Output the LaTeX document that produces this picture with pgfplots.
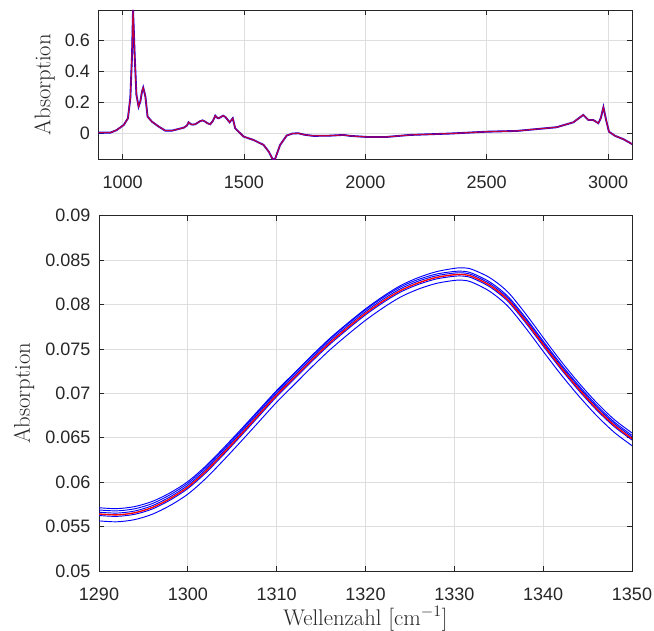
\documentclass[border=0pt]{standalone}
\usepackage{fontspec}
\usepackage{pgfplots}
\usepackage{pgfplotstable}
\pgfplotsset{compat=1.18}
\newfontfamily\arialfont{Liberation Sans}
\definecolor{axcol}{rgb}{0.15,0.15,0.15}
\definecolor{gridcol}{rgb}{0.87,0.87,0.87}

% full IR spectrum (wavenumber, absorbance)
\pgfplotstableread{
w A
900 0.004
950 0.004
975 0.020
1005 0.054
1022 0.097
1032 0.230
1039 0.510
1043 0.800
1046 0.680
1050 0.500
1057 0.250
1066 0.173
1073 0.205
1080 0.270
1085 0.296
1090 0.265
1094 0.238
1103 0.108
1121 0.075
1149 0.043
1176 0.017
1204 0.017
1252 0.036
1265 0.050
1272 0.071
1282 0.058
1290 0.056
1300 0.059
1310 0.069
1320 0.079
1330 0.0834
1340 0.0755
1350 0.0649
1361 0.058
1372 0.080
1382 0.114
1390 0.100
1396 0.097
1414 0.114
1424 0.105
1430 0.093
1441 0.071
1454 0.097
1464 0.032
1478 0.010
1499 -0.022
1540 -0.044
1581 -0.076
1602 -0.119
1618 -0.168
1628 -0.168
1649 -0.076
1676 -0.015
1700 -0.002
1724 0.000
1750 -0.010
1786 -0.017
1850 -0.016
1909 -0.011
1937 -0.017
2005 -0.024
2088 -0.024
2184 -0.011
2349 -0.002
2500 0.010
2624 0.015
2788 0.039
2857 0.071
2898 0.119
2919 0.086
2939 0.086
2960 0.065
2970 0.097
2981 0.169
2992 0.086
3004 0.010
3029 -0.017
3064 -0.039
3100 -0.071
}\spectrum

% detail 1290-1350: mean spectrum (red) and five single measurements (blue)
\pgfplotstableread{
w red b1 b2 b3 b4 b5
1290 0.05642 0.05712 0.05687 0.05662 0.05625 0.05564
1292 0.05632 0.05702 0.05677 0.05652 0.05615 0.05554
1294 0.05655 0.05725 0.05700 0.05675 0.05638 0.05578
1296 0.05715 0.05783 0.05759 0.05735 0.05698 0.05639
1298 0.05815 0.05880 0.05858 0.05835 0.05798 0.05737
1300 0.05945 0.06007 0.05987 0.05965 0.05928 0.05865
1302 0.06120 0.06180 0.06162 0.06140 0.06103 0.06040
1304 0.06325 0.06383 0.06366 0.06345 0.06308 0.06245
1306 0.06540 0.06596 0.06580 0.06560 0.06523 0.06460
1308 0.06760 0.06814 0.06800 0.06780 0.06743 0.06680
1310 0.06980 0.07032 0.07020 0.07000 0.06963 0.06900
1312 0.07180 0.07231 0.07220 0.07200 0.07163 0.07100
1314 0.07380 0.07430 0.07420 0.07400 0.07363 0.07300
1316 0.07570 0.07620 0.07610 0.07590 0.07553 0.07490
1318 0.07740 0.07790 0.07780 0.07760 0.07723 0.07661
1320 0.07900 0.07951 0.07940 0.07920 0.07883 0.07822
1322 0.08040 0.08093 0.08080 0.08060 0.08023 0.07964
1324 0.08160 0.08216 0.08200 0.08180 0.08143 0.08087
1326 0.08245 0.08305 0.08284 0.08265 0.08228 0.08175
1328 0.08305 0.08370 0.08343 0.08324 0.08288 0.08238
1330 0.08335 0.08407 0.08372 0.08354 0.08318 0.08271
1331 0.08337 0.08413 0.08374 0.08356 0.08320 0.08273
1332 0.08315 0.08395 0.08352 0.08334 0.08298 0.08250
1334 0.08215 0.08301 0.08253 0.08234 0.08198 0.08147
1336 0.08055 0.08143 0.08094 0.08075 0.08038 0.07983
1338 0.07815 0.07899 0.07854 0.07835 0.07798 0.07740
1340 0.07550 0.07628 0.07589 0.07570 0.07533 0.07473
1342 0.07290 0.07363 0.07329 0.07310 0.07273 0.07212
1344 0.07050 0.07119 0.07089 0.07070 0.07033 0.06971
1346 0.06830 0.06897 0.06869 0.06850 0.06814 0.06751
1348 0.06640 0.06705 0.06678 0.06660 0.06625 0.06561
1350 0.06490 0.06554 0.06528 0.06509 0.06475 0.06411
}\detail

\pgfplotsset{
  matlabstyle/.style={
    scale only axis,
    axis line style={axcol, line width=0.7pt},
    tick style={axcol, line width=0.6pt},
    tick align=inside,
    major tick length=4pt,
    grid=major,
    major grid style={gridcol, line width=0.5pt},
    ticklabel style={font=\arialfont\fontsize{13.5}{13.5}\selectfont, text=axcol, inner sep=0pt},
    /pgf/number format/assume math mode=true,
    /pgf/number format/1000 sep={},
    scaled ticks=false,
    xticklabel style={yshift=-12.4pt},
    yticklabel style={xshift=-6.2pt},
    label style={font=\fontsize{17}{20}\selectfont, text=axcol, inner sep=0pt},
  },
}

\begin{document}
\begin{tikzpicture}
\useasboundingbox (0,0) rectangle (490.5pt,473.25pt);

% overview spectrum
\begin{axis}[matlabstyle,
  at={(73.73pt,353.78pt)}, anchor=south west,
  width=400.5pt, height=111.98pt,
  xmin=900, xmax=3100, ymin=-0.169, ymax=0.8,
  xtick={1000,1500,2000,2500,3000},
  ytick={0,0.2,0.4,0.6},
  ylabel={Absorption},
  ylabel style={at={(axis description cs:-0.1007,0.5)}, anchor=center},
]
\addplot[blue, line width=1.4pt] table[x=w, y=A] {\spectrum};
\addplot[red, line width=0.9pt, opacity=0.75] table[x=w, y=A] {\spectrum};
\end{axis}

% detail of the band around 1330 cm^-1
\begin{axis}[matlabstyle,
  at={(74.25pt,45pt)}, anchor=south west,
  width=399.75pt, height=266.5pt,
  xmin=1290, xmax=1350, ymin=0.05, ymax=0.09,
  xtick={1290,1300,1310,1320,1330,1340,1350},
  ytick={0.05,0.055,0.06,0.065,0.07,0.075,0.08,0.085,0.09},
  yticklabel style={/pgf/number format/fixed, /pgf/number format/precision=3},
  ylabel={Absorption},
  ylabel style={at={(axis description cs:-0.1407,0.5)}, anchor=center},
  xlabel={Wellenzahl $[\mathrm{cm}^{-1}]$},
  xlabel style={at={(axis description cs:0.5,-0.1530)}, anchor=base},
]
\addplot[blue, line width=0.7pt, smooth] table[x=w, y=b1] {\detail};
\addplot[blue, line width=0.7pt, smooth] table[x=w, y=b2] {\detail};
\addplot[blue, line width=0.7pt, smooth] table[x=w, y=b3] {\detail};
\addplot[blue, line width=0.7pt, smooth] table[x=w, y=b4] {\detail};
\addplot[blue, line width=0.7pt, smooth] table[x=w, y=b5] {\detail};
\addplot[red, line width=1pt, smooth] table[x=w, y=red] {\detail};
\end{axis}
\end{tikzpicture}
\end{document}
